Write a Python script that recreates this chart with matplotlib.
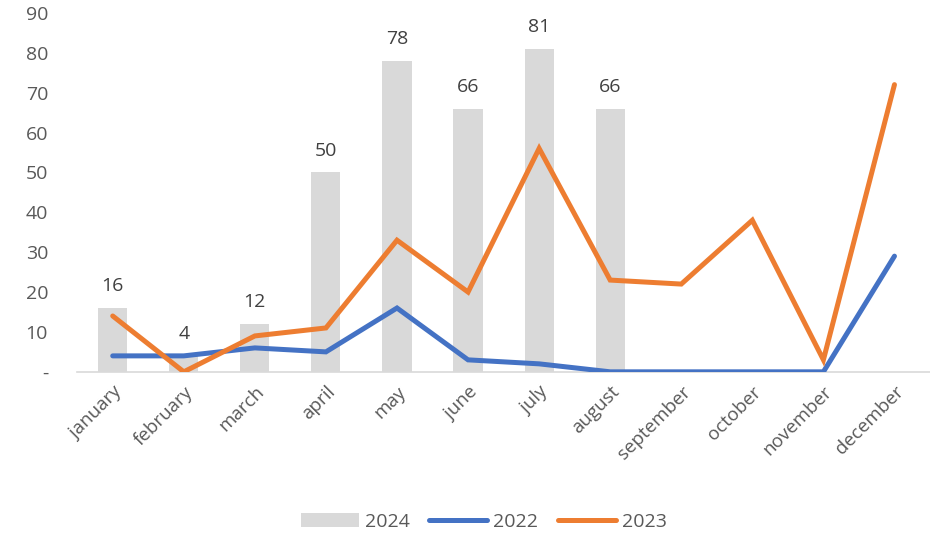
import matplotlib.pyplot as plt
import numpy as np

months = ['january', 'february', 'march', 'april', 'may', 'june',
          'july', 'august', 'september', 'october', 'november', 'december']
y2024 = [16, 4, 12, 50, 78, 66, 81, 66, None, None, None, None]
y2022 = [4, 4, 6, 5, 16, 3, 2, 0, 0, 0, 0, 29]
y2023 = [14, 0, 9, 11, 33, 20, 56, 23, 22, 38, 3, 72]

plt.rcParams['font.family'] = ['Open Sans', 'DejaVu Sans']
plt.rcParams['font.size'] = 14

fig = plt.figure(figsize=(9.3, 5.35), dpi=100)
ax = fig.add_axes([0.083, 0.305, 0.917, 0.671])

x = np.arange(len(months))
bars_h = [v if v is not None else 0 for v in y2024]
ax.bar(x, bars_h, width=0.41, color='#d9d9d9', label='2024', zorder=1)
for i, v in enumerate(y2024):
    if v is not None:
        ax.text(x[i], v + 3.2, str(v), ha='center', va='bottom', color='#404040', fontsize=14)

ax.plot(x, y2022, color='#4472c4', lw=3.6, solid_capstyle='round', solid_joinstyle='miter', label='2022', zorder=3)
ax.plot(x, y2023, color='#ed7d31', lw=3.6, solid_capstyle='round', solid_joinstyle='miter', label='2023', zorder=3)

ax.set_xlim(-0.5, 11.5)
ax.set_ylim(0, 90)
ax.set_yticks(range(0, 100, 10))
ax.set_yticklabels(['-'] + [str(v) for v in range(10, 100, 10)])
ax.set_xticks(x)
ax.set_xticklabels(months, rotation=45, ha='right', rotation_mode='anchor')
ax.tick_params(length=0, colors='#595959', labelsize=14)
ax.tick_params(axis='x', labelsize=13.5, pad=8)
ax.tick_params(axis='y', pad=21)

for s in ['top', 'right', 'left']:
    ax.spines[s].set_visible(False)
ax.spines['bottom'].set_color('#d9d9d9')
ax.spines['bottom'].set_linewidth(1.2)

h, l = ax.get_legend_handles_labels()
order = [l.index('2024'), l.index('2022'), l.index('2023')]
fig.legend([h[i] for i in order], [l[i] for i in order],
           loc='center', bbox_to_anchor=(0.52, 0.025), ncol=3, frameon=False,
           handlelength=3.0, handletextpad=0.3, columnspacing=1.0,
           labelcolor='#595959', fontsize=14)

fig.savefig('out.png', dpi=100)
